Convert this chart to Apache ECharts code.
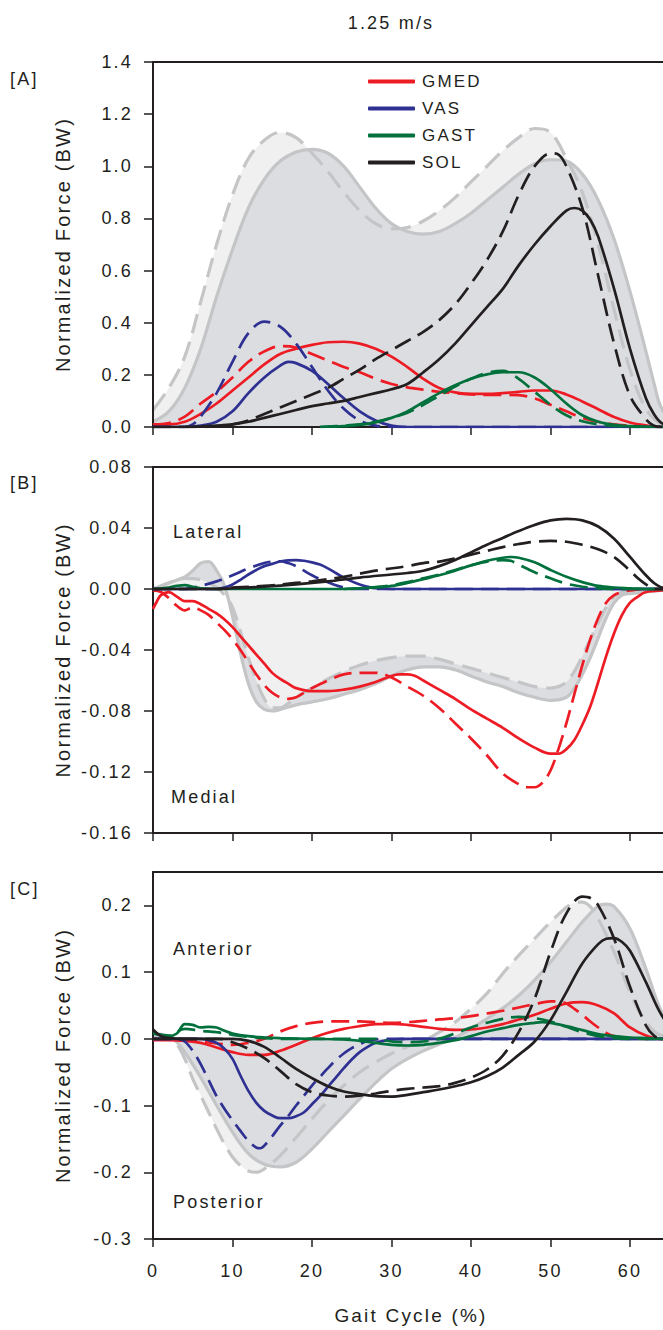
<!DOCTYPE html>
<html><head><meta charset="utf-8">
<script src="https://cdn.jsdelivr.net/npm/echarts@6/dist/echarts.min.js"></script>
<style>
html,body{margin:0;padding:0;background:#fff;}
#chart{width:663px;height:1330px;}
#chart text{letter-spacing:2.2px;}
</style></head><body><div id="chart"></div>
<script>
// ---------- data: [gait cycle %, force (BW)] ----------
const X_TICKS = [0, 10, 20, 30, 40, 50, 60];
const X_MAX = 64.15;               // visible end of the gait-cycle axis
const LEGEND = ['GMED', 'VAS', 'GAST', 'SOL'];

// Panel A  (total / shaded envelopes)
const A_TOTAL_DASH = [[0,0.065],[2,0.15],[4,0.27],[6,0.48],[8,0.70],[10,0.89],[12,1.03],[14,1.10],[16,1.13],[18,1.11],[20,1.05],[22,0.98],[24,0.90],[26,0.83],[28,0.78],[30,0.76],[32,0.765],[34,0.79],[36,0.83],[38,0.88],[40,0.94],[42,1.00],[44,1.06],[46,1.11],[48,1.145],[50,1.13],[52,1.03],[54,0.90],[56,0.70],[58,0.45],[60,0.22],[62,0.07],[64,0.01],[66,0],[70,0]];
const A_TOTAL = [[0,0.02],[2,0.06],[4,0.15],[6,0.30],[8,0.50],[10,0.68],[12,0.84],[14,0.95],[16,1.02],[18,1.055],[20,1.065],[22,1.05],[24,1.00],[26,0.92],[28,0.84],[30,0.78],[32,0.75],[34,0.74],[36,0.75],[38,0.78],[40,0.82],[42,0.87],[44,0.92],[46,0.97],[48,1.01],[50,1.025],[52,1.02],[54,0.97],[56,0.87],[58,0.72],[60,0.52],[62,0.29],[63,0.17],[64,0.07],[66,0.01],[70,0]];
const A_GMED = [[0,0.01],[2,0.01],[4,0.02],[6,0.05],[8,0.09],[10,0.14],[12,0.19],[14,0.24],[16,0.28],[18,0.30],[20,0.315],[22,0.325],[24,0.327],[26,0.32],[28,0.30],[30,0.27],[32,0.23],[34,0.185],[36,0.15],[38,0.133],[40,0.127],[42,0.127],[44,0.13],[46,0.135],[48,0.14],[50,0.14],[52,0.125],[54,0.098],[56,0.068],[58,0.038],[60,0.017],[62,0.006],[64,0],[70,0]];
const A_GMED_D = [[0,0.01],[2,0.015],[4,0.04],[6,0.09],[8,0.135],[10,0.19],[12,0.25],[14,0.29],[16,0.31],[18,0.305],[20,0.28],[22,0.255],[24,0.23],[26,0.21],[28,0.185],[30,0.165],[32,0.152],[34,0.143],[36,0.135],[38,0.13],[40,0.125],[42,0.123],[44,0.123],[46,0.122],[48,0.11],[50,0.085],[52,0.06],[54,0.035],[56,0.02],[58,0.01],[60,0.005],[62,0],[70,0]];
const A_VAS = [[0,0],[4,0],[6,0.005],[8,0.02],[10,0.06],[12,0.13],[14,0.19],[16,0.235],[17,0.25],[18,0.245],[20,0.215],[22,0.165],[24,0.11],[26,0.06],[28,0.025],[30,0.005],[32,0],[40,0],[50,0],[60,0],[70,0]];
const A_VAS_D = [[0,0],[4,0],[5,0.01],[6,0.04],[8,0.13],[10,0.25],[12,0.36],[14,0.404],[16,0.385],[18,0.32],[20,0.23],[22,0.14],[24,0.07],[26,0.025],[28,0.005],[30,0],[40,0],[50,0],[60,0],[70,0]];
const A_GAST = [[21,0],[22,0.001],[24,0.003],[26,0.008],[28,0.018],[30,0.035],[32,0.06],[34,0.095],[36,0.13],[38,0.16],[40,0.185],[42,0.202],[44,0.21],[46,0.21],[48,0.19],[50,0.145],[52,0.09],[54,0.045],[56,0.02],[58,0.008],[60,0.003],[62,0.001],[64,0],[70,0]];
const A_GAST_D = [[21,0],[22,0.002],[24,0.005],[26,0.01],[28,0.02],[30,0.035],[32,0.055],[34,0.085],[36,0.12],[38,0.155],[40,0.185],[42,0.208],[44,0.215],[46,0.185],[48,0.135],[50,0.085],[52,0.045],[54,0.022],[56,0.01],[58,0.004],[60,0.001],[62,0],[70,0]];
const A_SOL = [[0,0],[4,0],[6,0.002],[8,0.005],[10,0.01],[12,0.02],[14,0.035],[16,0.05],[18,0.065],[20,0.08],[22,0.09],[24,0.10],[26,0.115],[28,0.13],[30,0.145],[32,0.165],[34,0.21],[36,0.26],[38,0.32],[40,0.39],[42,0.46],[44,0.53],[46,0.62],[48,0.70],[50,0.77],[52,0.83],[53,0.84],[54,0.83],[55,0.795],[56,0.73],[58,0.53],[60,0.30],[62,0.11],[63,0.05],[64,0.015],[66,0],[70,0]];
const A_SOL_D = [[0,0],[6,0],[8,0.003],[10,0.01],[12,0.025],[14,0.05],[16,0.075],[18,0.10],[20,0.125],[22,0.15],[24,0.185],[26,0.22],[28,0.26],[30,0.295],[32,0.33],[34,0.365],[36,0.41],[38,0.47],[40,0.55],[42,0.64],[44,0.75],[46,0.89],[48,1.00],[50,1.05],[51,1.045],[52,1.00],[54,0.84],[56,0.58],[58,0.32],[60,0.12],[62,0.03],[63,0.005],[64,0],[70,0]];

// Panel B
const B_TOTAL = [[0,0],[2,0.004],[4,0.008],[5,0.012],[6,0.017],[7,0.018],[8,0.012],[9,0.002],[10,-0.018],[11,-0.042],[12,-0.062],[13,-0.074],[14,-0.079],[15,-0.08],[16,-0.079],[18,-0.076],[20,-0.074],[22,-0.072],[24,-0.069],[26,-0.066],[28,-0.062],[30,-0.057],[32,-0.053],[34,-0.051],[36,-0.051],[38,-0.053],[40,-0.057],[42,-0.061],[44,-0.064],[46,-0.068],[48,-0.071],[50,-0.073],[52,-0.071],[53,-0.065],[54,-0.056],[55,-0.045],[56,-0.032],[57,-0.019],[58,-0.009],[59,-0.004],[60,-0.003],[62,-0.002],[64,-0.001],[70,0]];
const B_TOTAL_DASH = [[0,0],[2,0.004],[4,0.007],[6,0.006],[8,0.001],[9,-0.004],[10,-0.012],[11,-0.028],[12,-0.045],[13,-0.06],[14,-0.072],[15,-0.078],[16,-0.078],[17,-0.075],[18,-0.071],[20,-0.065],[22,-0.059],[24,-0.054],[26,-0.05],[28,-0.047],[30,-0.045],[32,-0.044],[34,-0.044],[36,-0.046],[38,-0.049],[40,-0.052],[42,-0.055],[44,-0.058],[46,-0.061],[48,-0.064],[50,-0.065],[51,-0.064],[52,-0.061],[53,-0.054],[54,-0.044],[55,-0.033],[56,-0.022],[57,-0.012],[58,-0.005],[59,-0.002],[60,-0.001],[62,0],[70,0]];
const B_GMED = [[0,-0.013],[0.5,-0.008],[1,-0.004],[2,-0.002],[3,-0.005],[4,-0.008],[5,-0.008],[6,-0.01],[7,-0.013],[8,-0.016],[9,-0.02],[10,-0.025],[11,-0.031],[12,-0.037],[13,-0.043],[14,-0.049],[15,-0.055],[16,-0.059],[17,-0.062],[18,-0.065],[20,-0.067],[22,-0.067],[24,-0.066],[26,-0.064],[28,-0.061],[30,-0.057],[31,-0.056],[32,-0.056],[33,-0.057],[34,-0.06],[36,-0.066],[38,-0.072],[40,-0.079],[42,-0.085],[44,-0.091],[46,-0.098],[48,-0.104],[50,-0.108],[51,-0.108],[52,-0.105],[53,-0.099],[54,-0.089],[55,-0.077],[56,-0.061],[57,-0.044],[58,-0.029],[59,-0.017],[60,-0.009],[61,-0.005],[62,-0.002],[64,-0.001],[70,0]];
const B_GMED_D = [[0,-0.001],[1,-0.002],[2,-0.006],[3,-0.011],[4,-0.014],[5,-0.012],[6,-0.014],[7,-0.017],[8,-0.022],[9,-0.027],[10,-0.033],[11,-0.04],[12,-0.048],[13,-0.056],[14,-0.063],[15,-0.068],[16,-0.071],[17,-0.072],[18,-0.071],[19,-0.068],[20,-0.065],[22,-0.06],[24,-0.056],[26,-0.055],[28,-0.055],[30,-0.058],[32,-0.064],[34,-0.07],[36,-0.078],[38,-0.088],[40,-0.098],[42,-0.109],[44,-0.121],[46,-0.128],[47,-0.13],[48,-0.13],[49,-0.127],[50,-0.119],[51,-0.105],[52,-0.088],[53,-0.069],[54,-0.05],[55,-0.033],[56,-0.019],[57,-0.009],[58,-0.004],[59,-0.002],[60,-0.001],[62,0],[70,0]];
const B_VAS = [[0,0],[8,0],[9,0.001],[10,0.003],[11,0.006],[12,0.0095],[13,0.0125],[14,0.015],[15,0.0165],[16,0.018],[17,0.0188],[18,0.019],[19,0.0185],[20,0.0175],[21,0.016],[22,0.0135],[23,0.0105],[24,0.0075],[25,0.005],[26,0.003],[27,0.0015],[28,0.0005],[30,0],[40,0],[50,0],[60,0],[70,0]];
const B_VAS_D = [[0,0],[4,0],[5,0.001],[6,0.002],[8,0.005],[10,0.009],[12,0.0135],[14,0.017],[15,0.018],[16,0.0182],[17,0.017],[18,0.015],[19,0.012],[20,0.009],[21,0.0065],[22,0.0045],[23,0.0025],[24,0.001],[25,0],[40,0],[50,0],[60,0],[70,0]];
const B_GAST = [[0,0],[2,0.001],[3,0.002],[4,0.0025],[5,0.0015],[6,0.0005],[8,0],[16,0],[24,0],[26,0.0005],[28,0.001],[30,0.002],[32,0.004],[34,0.0065],[36,0.009],[38,0.012],[40,0.0155],[42,0.0185],[44,0.0205],[45,0.021],[46,0.0205],[48,0.0175],[50,0.0125],[52,0.008],[54,0.0045],[56,0.002],[58,0.001],[60,0.0005],[62,0],[70,0]];
const B_GAST_D = [[24,0],[26,0.0005],[28,0.0012],[30,0.0025],[32,0.0045],[34,0.007],[36,0.0095],[38,0.0125],[40,0.0155],[42,0.018],[44,0.019],[45,0.0185],[46,0.016],[48,0.011],[50,0.007],[52,0.0035],[54,0.0015],[56,0.0005],[58,0],[70,0]];
const B_SOL = [[0,0],[8,0],[10,0.0005],[14,0.0015],[18,0.003],[22,0.005],[26,0.0075],[30,0.0095],[32,0.0105],[34,0.012],[36,0.015],[38,0.019],[40,0.024],[42,0.029],[44,0.0335],[46,0.038],[48,0.042],[50,0.045],[52,0.046],[54,0.045],[56,0.041],[58,0.033],[60,0.021],[62,0.009],[63,0.004],[64,0.001],[66,0],[70,0]];
const B_SOL_D = [[0,0],[8,0],[10,0.001],[14,0.002],[18,0.004],[20,0.005],[24,0.008],[28,0.012],[32,0.015],[34,0.017],[36,0.018],[38,0.02],[40,0.0225],[42,0.025],[44,0.0275],[46,0.0295],[48,0.031],[50,0.0315],[52,0.031],[54,0.029],[56,0.026],[58,0.021],[60,0.012],[61,0.007],[62,0.003],[63,0],[70,0]];

// Panel C
const C_TOTAL_DASH = [[0,0.008],[2,0.004],[3,-0.008],[4,-0.03],[5,-0.06],[6,-0.085],[7,-0.11],[8,-0.135],[9,-0.158],[10,-0.177],[11,-0.19],[12,-0.198],[13,-0.2],[14,-0.195],[16,-0.175],[18,-0.148],[20,-0.12],[22,-0.093],[24,-0.07],[26,-0.05],[28,-0.035],[30,-0.022],[32,-0.012],[34,-0.003],[36,0.01],[38,0.025],[40,0.045],[42,0.068],[44,0.098],[46,0.125],[48,0.15],[50,0.175],[52,0.197],[53,0.204],[54,0.205],[55,0.198],[56,0.18],[58,0.13],[60,0.07],[62,0.025],[64,0.005],[70,0]];
const C_TOTAL = [[0,0.005],[2,0.003],[3,-0.005],[4,-0.02],[6,-0.058],[8,-0.10],[10,-0.14],[12,-0.172],[14,-0.188],[16,-0.192],[18,-0.185],[20,-0.165],[22,-0.14],[24,-0.115],[26,-0.09],[28,-0.066],[30,-0.045],[32,-0.03],[34,-0.018],[36,-0.008],[38,0.002],[40,0.015],[42,0.03],[44,0.046],[46,0.065],[48,0.088],[50,0.115],[52,0.145],[54,0.175],[56,0.199],[57,0.202],[58,0.198],[60,0.165],[62,0.105],[64,0.04],[66,0.01],[70,0]];
const C_GMED = [[0,-0.002],[2,-0.002],[4,-0.003],[6,-0.006],[8,-0.013],[10,-0.02],[12,-0.024],[14,-0.024],[16,-0.018],[18,-0.009],[20,0.001],[22,0.009],[24,0.015],[26,0.019],[28,0.022],[30,0.0225],[32,0.021],[34,0.018],[36,0.015],[38,0.0135],[40,0.014],[42,0.017],[44,0.022],[46,0.029],[48,0.036],[50,0.045],[52,0.053],[54,0.055],[56,0.05],[58,0.038],[60,0.017],[62,0.005],[64,0],[70,0]];
const C_GMED_D = [[0,0],[2,-0.001],[4,-0.002],[6,-0.004],[8,-0.007],[10,-0.009],[12,-0.006],[14,0.0],[16,0.011],[18,0.019],[20,0.024],[22,0.026],[24,0.026],[26,0.026],[28,0.025],[30,0.024],[32,0.025],[34,0.027],[36,0.029],[38,0.031],[40,0.034],[42,0.038],[44,0.042],[46,0.047],[48,0.052],[50,0.056],[51,0.056],[52,0.053],[53,0.045],[54,0.036],[55,0.026],[56,0.017],[57,0.009],[58,0.004],[60,0.001],[62,0],[70,0]];
const C_VAS = [[0,0],[6,0],[7,-0.002],[8,-0.006],[9,-0.015],[10,-0.03],[11,-0.055],[12,-0.078],[13,-0.096],[14,-0.108],[15,-0.115],[16,-0.119],[17,-0.119],[18,-0.116],[19,-0.11],[20,-0.098],[21,-0.086],[22,-0.072],[23,-0.058],[24,-0.044],[25,-0.031],[26,-0.02],[27,-0.012],[28,-0.006],[29,-0.003],[30,-0.001],[32,0],[40,0],[50,0],[60,0],[70,0]];
const C_VAS_D = [[0,0],[3,0],[4,-0.004],[5,-0.018],[6,-0.038],[7,-0.062],[8,-0.086],[9,-0.105],[10,-0.122],[11,-0.138],[12,-0.153],[13,-0.163],[13.5,-0.164],[14,-0.16],[15,-0.146],[16,-0.13],[17,-0.116],[18,-0.1],[19,-0.085],[20,-0.07],[21,-0.057],[22,-0.044],[23,-0.032],[24,-0.022],[25,-0.014],[26,-0.008],[27,-0.003],[28,-0.001],[29,0],[40,0],[50,0],[60,0],[70,0]];
const C_GAST = [[0,0.008],[1,0.006],[2,0.004],[3,0.008],[4,0.022],[5,0.021],[6,0.017],[7,0.018],[8,0.017],[9,0.012],[10,0.008],[12,0.004],[14,0.002],[16,0.001],[20,0],[24,-0.001],[26,-0.003],[28,-0.006],[30,-0.009],[32,-0.01],[34,-0.009],[36,-0.006],[38,-0.002],[40,0.004],[42,0.011],[44,0.016],[46,0.021],[48,0.024],[49,0.025],[50,0.024],[52,0.019],[54,0.013],[56,0.007],[58,0.004],[60,0.002],[62,0.001],[64,0],[70,0]];
const C_GAST_D = [[0,0.008],[2,0.005],[4,0.015],[6,0.012],[8,0.01],[10,0.006],[12,0.003],[14,0.001],[16,0],[28,0],[30,-0.004],[32,-0.005],[34,-0.004],[36,0],[38,0.008],[40,0.017],[42,0.024],[44,0.03],[46,0.033],[48,0.031],[50,0.026],[52,0.018],[54,0.01],[56,0.004],[58,0.001],[60,0],[70,0]];
const C_SOL = [[0,0.014],[1,0.004],[2,0.001],[4,0],[10,0],[12,-0.003],[14,-0.012],[16,-0.028],[18,-0.045],[20,-0.059],[22,-0.071],[24,-0.079],[26,-0.083],[28,-0.086],[30,-0.0865],[32,-0.084],[34,-0.08],[36,-0.076],[38,-0.071],[40,-0.065],[42,-0.056],[44,-0.043],[46,-0.024],[48,-0.004],[50,0.028],[52,0.07],[54,0.113],[56,0.142],[57,0.15],[58,0.151],[59,0.145],[60,0.132],[62,0.085],[64,0.035],[66,0.008],[70,0]];
const C_SOL_D = [[0,0],[8,0],[9,-0.001],[10,-0.005],[12,-0.015],[14,-0.029],[16,-0.048],[18,-0.068],[20,-0.08],[22,-0.085],[24,-0.0865],[26,-0.085],[28,-0.082],[30,-0.078],[32,-0.075],[34,-0.073],[36,-0.071],[38,-0.066],[40,-0.058],[42,-0.046],[44,-0.025],[46,0.01],[48,0.06],[50,0.13],[52,0.188],[54,0.213],[55,0.211],[56,0.2],[58,0.15],[60,0.078],[62,0.02],[63,0.005],[64,0],[70,0]];

// ---------- styling ----------
const FONT = '"Liberation Sans", Arial, Helvetica, sans-serif';
const INK = '#231f20';
const COL = {GMED:'#ed1c24', VAS:'#2e3192', GAST:'#00703c', SOL:'#231f20'};
const GREY_LINE = '#c4c5c7', GREY_DARK = '#dcdde0', GREY_LIGHT = '#f0f0f1';

function curve(name, data, g, dashed) {
  return {type:'line', name, xAxisIndex:g, yAxisIndex:g, data, symbol:'none', showSymbol:false,
    smooth:0.35, z:3, animation:false, emphasis:{disabled:true},
    lineStyle:{color:COL[name], width:2.7, type: dashed ? [18,8] : 'solid'}, itemStyle:{color:COL[name]}};
}
function band(name, data, g, fill, dashed) {
  return {type:'line', name, xAxisIndex:g, yAxisIndex:g, data, symbol:'none', showSymbol:false,
    smooth:0.35, z:1, animation:false, emphasis:{disabled:true},
    lineStyle:{color:GREY_LINE, width:3.2, type: dashed ? [20,9] : 'solid'},
    areaStyle:{color:fill, opacity:1}, itemStyle:{color:GREY_LINE}};
}
function lines(g, S) {
  return [
    curve('GMED', S.GMED, g, false), curve('GMED', S.GMED_D, g, true),
    curve('VAS', S.VAS, g, false), curve('VAS', S.VAS_D, g, true),
    curve('GAST', S.GAST, g, false), curve('GAST', S.GAST_D, g, true),
    curve('SOL', S.SOL, g, false), curve('SOL', S.SOL_D, g, true)
  ];
}

const grids = [
  {left:153, right:0, top:62, height:365},
  {left:153, right:0, top:467, height:366},
  {left:153, right:0, top:872, height:367}
];

function xAxis(g, labels) {
  return {type:'value', gridIndex:g, position:'bottom', min:0, max:X_MAX, interval:10, z:2,
    axisLine:{show:true, onZero:false, lineStyle:{color:INK, width:2}},
    axisTick:{show:true, inside:false, length:8, customValues:X_TICKS, lineStyle:{color:INK, width:1.5}},
    axisLabel:{show:labels, margin:23, fontSize:18, fontFamily:FONT, color:INK, customValues:X_TICKS,
      formatter: v => String(v)},
    splitLine:{show:false}};
}
function xFrame(g) {   // top frame line of each panel
  return {type:'value', gridIndex:g, position:'top', min:0, max:X_MAX, z:2,
    axisLine:{show:true, onZero:false, lineStyle:{color:INK, width:2}},
    axisTick:{show:false}, axisLabel:{show:false}, splitLine:{show:false}};
}
function yAxis(g, min, max, interval, dec) {
  return {type:'value', gridIndex:g, min, max, interval, z:2,
    name:'Normalized Force (BW)', nameLocation:'middle', nameGap:80,
    nameTextStyle:{fontSize:20, fontFamily:FONT, color:INK},
    axisLine:{show:true, onZero:false, lineStyle:{color:INK, width:2}},
    axisTick:{show:true, inside:false, length:9, lineStyle:{color:INK, width:1.5}},
    axisLabel:{margin:20, fontSize:18, fontFamily:FONT, color:INK, showMaxLabel: g === 2 ? false : true,
      formatter: v => (Math.abs(v) < 1e-9 ? 0 : v).toFixed(dec)},
    splitLine:{show:false}};
}

function txt(text, x, y, size, align) {
  return {type:'text', x, y, z:10, style:{text, fontSize:size, fontFamily:FONT, fill:INK, align:align||'left', verticalAlign:'middle'}};
}

// series use xAxisIndex 0..2 (bottom axes); frame axes are 3..5
const series = [].concat(
  [band('Total', A_TOTAL_DASH, 0, GREY_LIGHT, true), band('Total', A_TOTAL, 0, GREY_DARK, false)],
  lines(0, {GMED:A_GMED, GMED_D:A_GMED_D, VAS:A_VAS, VAS_D:A_VAS_D, GAST:A_GAST, GAST_D:A_GAST_D, SOL:A_SOL, SOL_D:A_SOL_D}),
  [band('Total', B_TOTAL, 1, GREY_DARK, false), band('Total', B_TOTAL_DASH, 1, GREY_LIGHT, true)],
  lines(1, {GMED:B_GMED, GMED_D:B_GMED_D, VAS:B_VAS, VAS_D:B_VAS_D, GAST:B_GAST, GAST_D:B_GAST_D, SOL:B_SOL, SOL_D:B_SOL_D}),
  [band('Total', C_TOTAL_DASH, 2, GREY_LIGHT, true), band('Total', C_TOTAL, 2, GREY_DARK, false)],
  lines(2, {GMED:C_GMED, GMED_D:C_GMED_D, VAS:C_VAS, VAS_D:C_VAS_D, GAST:C_GAST, GAST_D:C_GAST_D, SOL:C_SOL, SOL_D:C_SOL_D})
);

const chart = echarts.init(document.getElementById('chart'), null, {renderer:'svg', width:663, height:1330});
chart.setOption({
  backgroundColor:'#ffffff',
  animation:false,
  grid: grids,
  xAxis: [xAxis(0,false), xAxis(1,false), xAxis(2,true), xFrame(0), xFrame(1), xFrame(2)],
  yAxis: [yAxis(0,0,1.4,0.2,1), yAxis(1,-0.16,0.08,0.04,2), yAxis(2,-0.3,0.25,0.1,1)],
  legend: {orient:'vertical', left:363, top:68, itemWidth:47, itemHeight:4, itemGap:10, icon:'roundRect',
    selectedMode:false,
    data: LEGEND.map(n => ({name:n, itemStyle:{color:COL[n]}})),
    textStyle:{fontSize:17, fontFamily:FONT, color:INK, padding:[0,0,0,2]}},
  graphic: {elements: [
    txt('1.25 m/s', 391, 23, 18, 'center'),
    txt('[A]', 10, 79, 18), txt('[B]', 10, 483, 18), txt('[C]', 10, 889, 18),
    txt('Lateral', 173, 532, 18), txt('Medial', 171, 797, 18),
    txt('Anterior', 173, 949, 18), txt('Posterior', 173, 1202, 18),
    txt('Gait Cycle (%)', 411, 1315, 19, 'center')
  ]},
  series
});
</script></body></html>
